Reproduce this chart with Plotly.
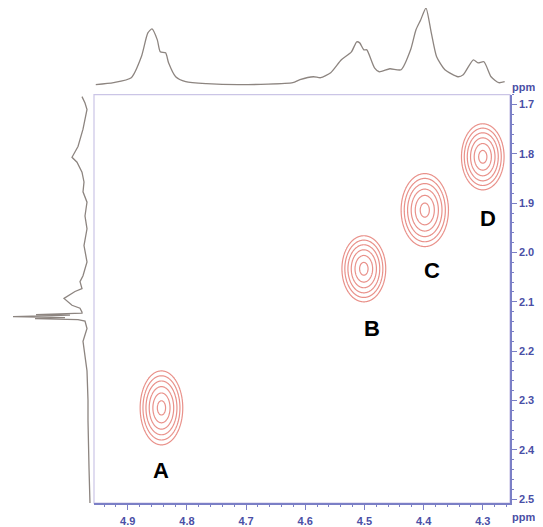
import numpy as np
import plotly.graph_objects as go

W, H = 543, 527
OFF = 8  # page body margin
FW, FH = W - OFF, H - OFF

# ---- data ----
# top projection (F2, ppm) and intensity
top_ppm = [4.954, 4.924, 4.894, 4.877, 4.866, 4.859, 4.850, 4.845, 4.836, 4.831, 4.819, 4.802,
           4.767, 4.709, 4.621, 4.609, 4.586, 4.574, 4.557, 4.539, 4.522, 4.513, 4.508, 4.501,
           4.496, 4.483, 4.475, 4.457, 4.438, 4.422, 4.413, 4.405, 4.396, 4.387, 4.378, 4.364,
           4.342, 4.333, 4.316, 4.308, 4.298, 4.286, 4.273, 4.263]
top_int = [0, 2, 7, 28, 52, 56, 45, 33, 32, 22, 8, 3,
           1, 0, 2, 5, 8, 7, 12, 25, 33, 43, 42, 35,
           35, 17, 13, 16, 15, 35, 55, 65, 77, 52, 28, 15,
           8, 10, 25, 22, 23, 8, 2, 3]

# left projection (F1, ppm) and intensity
left_ppm = [1.684, 1.697, 1.710, 1.730, 1.750, 1.785, 1.807, 1.817, 1.837, 1.857, 1.877, 1.898,
            1.926, 1.952, 1.986, 2.019, 2.047, 2.059, 2.073, 2.079, 2.093, 2.107, 2.113, 2.121,
            2.123, 2.126, 2.127, 2.130, 2.132, 2.134, 2.136, 2.139, 2.154, 2.180, 2.208, 2.240,
            2.300, 2.341, 2.436, 2.510]
left_int = [8, 5, 3, 5, 7, 12, 18, 13, 8, 6, 7, 3,
            5, 3, 6, 3, 7, 10, 8, 15, 26, 18, 10, 8,
            8, 54, 20, 77, 25, 55, 12, 5, 3, 7, 5, 3,
            2, 2, 1, 0]

# cross peaks
peak_names = ["A", "B", "C", "D"]
peak_f2 = [4.843, 4.501, 4.398, 4.300]
peak_f1 = [2.315, 2.033, 1.914, 1.806]
peak_hw2 = [0.036, 0.037, 0.040, 0.036]
peak_hw1 = [0.075, 0.067, 0.074, 0.067]
label_f2 = [4.843, 4.488, 4.386, 4.292]
label_f1 = [2.442, 2.154, 2.037, 1.932]

x_ticks = [4.9, 4.8, 4.7, 4.6, 4.5, 4.4, 4.3]
y_ticks = [1.7, 1.8, 1.9, 2.0, 2.1, 2.2, 2.3, 2.4, 2.5]

# ---- styling ----
AX = "#7b7fc6"
TXT = "#4a4fa6"
RED = "#e9918a"
SPEC = "#8d8580"
FONT = "Liberation Sans, Arial, sans-serif"


def px2x(px):
    return (px - OFF) / FW


def py2y(py):
    return 1 - (py - OFF) / FH


fig = go.Figure()

# contours
for cx, cy, wx, wy in zip(peak_f2, peak_f1, peak_hw2, peak_hw1):
    xs = np.linspace(cx - wx * 1.15, cx + wx * 1.15, 120)
    ys = np.linspace(cy - wy * 1.15, cy + wy * 1.15, 120)
    X, Y = np.meshgrid(xs, ys)
    R = np.sqrt(((X - cx) / wx) ** 2 + ((Y - cy) / wy) ** 2)
    Z = 1 - R ** 1.4
    fig.add_trace(go.Contour(
        x=xs, y=ys, z=Z, xaxis="x", yaxis="y",
        contours=dict(start=0.0, end=0.9, size=0.18, coloring="lines"),
        colorscale=[[0, RED], [1, RED]], line=dict(width=1.2),
        showscale=False, hoverinfo="skip"))

# top projection
fig.add_trace(go.Scatter(x=top_ppm, y=top_int, xaxis="x2", yaxis="y2", mode="lines",
                         line=dict(color=SPEC, width=1.3, shape="spline", smoothing=0.6),
                         hoverinfo="skip", showlegend=False))
# left projection
fig.add_trace(go.Scatter(x=left_int, y=left_ppm, xaxis="x3", yaxis="y3", mode="lines",
                         line=dict(color=SPEC, width=1.3),
                         hoverinfo="skip", showlegend=False))

main_xd = [px2x(94), px2x(510)]
main_yd = [py2y(505), py2y(95)]
TF = dict(size=11, color=TXT, family="Liberation Sans, Arial")

fig.update_layout(
    width=FW, height=FH, margin=dict(l=0, r=0, t=0, b=0),
    paper_bgcolor="white", plot_bgcolor="white", showlegend=False,
    font=dict(family=FONT),
    xaxis=dict(domain=main_xd, range=[4.957, 4.254], anchor="y", side="bottom",
               showline=True, linecolor=AX, linewidth=1.5, mirror=False,
               ticks="outside", ticklen=5, tickcolor=AX, tickwidth=1.2,
               tickvals=x_ticks, ticktext=[f"<b>{v:.1f}</b>" for v in x_ticks],
               tickfont=TF, ticklabelstandoff=2,
               minor=dict(dtick=0.02, tick0=4.3, ticks="outside", ticklen=2, tickcolor=AX),
               showgrid=False, zeroline=False),
    yaxis=dict(domain=main_yd, range=[2.508, 1.68], anchor="x", side="right",
               showline=True, linecolor=AX, linewidth=1.5,
               ticks="outside", ticklen=5, tickcolor=AX, tickwidth=1.2,
               tickvals=y_ticks, ticktext=[f"<b>{v:.1f}</b>" for v in y_ticks],
               tickfont=TF,
               minor=dict(dtick=0.02, tick0=1.7, ticks="outside", ticklen=2, tickcolor=AX),
               showgrid=False, zeroline=False),
    xaxis2=dict(domain=main_xd, matches="x", anchor="y2", visible=False),
    yaxis2=dict(domain=[py2y(88), py2y(8)], range=[-3, 77], anchor="x2", visible=False),
    xaxis3=dict(domain=[px2x(8), px2x(93)], range=[82, -3], anchor="y3", visible=False),
    yaxis3=dict(domain=main_yd, matches="y", anchor="x3", visible=False),
)

# light frame (top/left)
fig.add_shape(type="rect", xref="x domain", yref="y domain", x0=0, x1=1, y0=0, y1=1,
              line=dict(color="#cbc5e6", width=1.2), layer="below")

# labels
for name, lx, ly in zip(peak_names, label_f2, label_f1):
    fig.add_annotation(x=lx, y=ly, xref="x", yref="y", text=f"<b>{name}</b>", showarrow=False,
                       font=dict(size=22, color="black", family="Liberation Sans, Arial"))

fig.add_annotation(x=px2x(523), y=py2y(87), xref="paper", yref="paper", text="<b>ppm</b>",
                   xanchor="center", yanchor="middle",
                   showarrow=False, font=TF)
fig.add_annotation(x=px2x(523), y=py2y(519), xref="paper", yref="paper", text="<b>ppm</b>",
                   xanchor="center", yanchor="middle",
                   showarrow=False, font=TF)

fig.write_html("out.html")
